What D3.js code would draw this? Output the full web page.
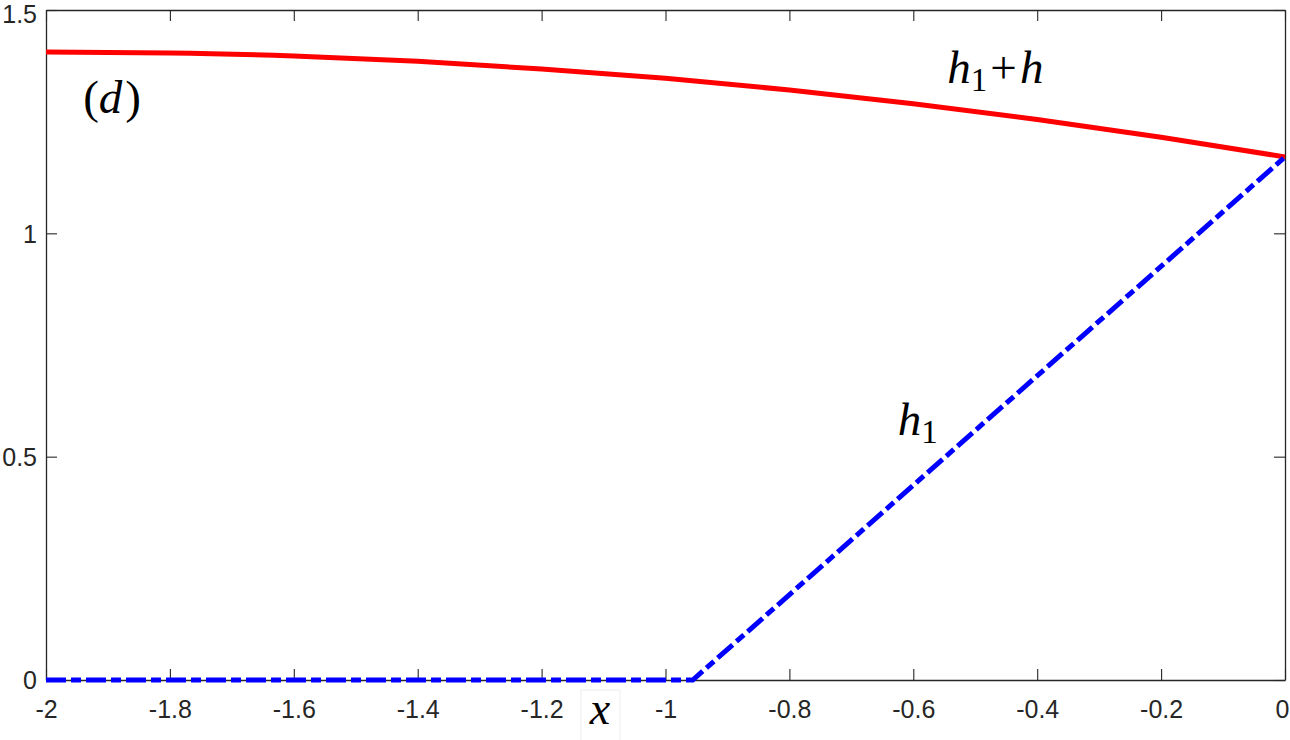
<!DOCTYPE html>
<html>
<head>
<meta charset="utf-8">
<script src="https://cdn.jsdelivr.net/npm/d3@7"></script>
<style>
  html, body { margin: 0; padding: 0; background: #fff; }
  svg { display: block; }
</style>
</head>
<body>
<svg id="chart" width="1290" height="740"></svg>
<script>
// ---- data ----
const xTicks = [-2, -1.8, -1.6, -1.4, -1.2, -1, -0.8, -0.6, -0.4, -0.2, 0];
const xTickLabels = ["-2", "-1.8", "-1.6", "-1.4", "-1.2", "-1", "-0.8", "-0.6", "-0.4", "-0.2", "0"];
const yTicks = [0, 0.5, 1, 1.5];
const yTickLabels = ["0", "0.5", "1", "1.5"];

// h1 + h (red solid)
const sumX = [-2, -1.8, -1.6, -1.4, -1.2, -1.0, -0.8, -0.6, -0.4, -0.2, 0];
const sumY = [1.406, 1.404, 1.397, 1.385, 1.368, 1.347, 1.321, 1.290, 1.255, 1.215, 1.171];

// h1 (blue dash-dot)
const h1X = [-2, -0.956, 0];
const h1Y = [0, 0, 1.171];

// ---- layout ----
const svg = d3.select("#chart");
const L = 46, R = 1285, T = 10, B = 680;
const x = d3.scaleLinear().domain([-2, 0]).range([L, R]);
const y = d3.scaleLinear().domain([0, 1.5]).range([B, T]);
const axisColor = "#262626";
const tickLen = 11;

const fmtX = (d) => xTickLabels[xTicks.indexOf(d)];
const fmtY = (d) => yTickLabels[yTicks.indexOf(d)];

const gx = svg.append("g").attr("transform", `translate(0,${B})`)
  .call(d3.axisBottom(x).tickValues(xTicks).tickFormat(fmtX).tickSizeInner(-tickLen).tickSizeOuter(0).tickPadding(20));
const gxt = svg.append("g").attr("transform", `translate(0,${T})`)
  .call(d3.axisTop(x).tickValues(xTicks).tickFormat("").tickSizeInner(-tickLen).tickSizeOuter(0));
const gy = svg.append("g").attr("transform", `translate(${L},0)`)
  .call(d3.axisLeft(y).tickValues(yTicks).tickFormat(fmtY).tickSizeInner(-tickLen).tickSizeOuter(0).tickPadding(9));
const gyr = svg.append("g").attr("transform", `translate(${R},0)`)
  .call(d3.axisRight(y).tickValues(yTicks).tickFormat("").tickSizeInner(-tickLen).tickSizeOuter(0));

[gx, gxt, gy, gyr].forEach(g => {
  g.selectAll(".domain").attr("stroke", axisColor).attr("stroke-width", 1.3);
  g.selectAll(".tick line").attr("stroke", axisColor).attr("stroke-width", 1.1);
  g.selectAll(".tick text")
    .attr("fill", axisColor)
    .style("font-family", "'Liberation Sans', Arial, sans-serif")
    .style("font-size", "25px");
});
gy.selectAll(".tick text").attr("dy", "0.35em");
gy.selectAll(".tick text").filter(d => d === 1.5).attr("dy", "0.5em");
// last x label: keep inside the view
gx.selectAll(".tick text").filter(d => d === 0).attr("text-anchor", "end").attr("x", 4);

// ---- lines ----
const lineSum = d3.line().x((d, i) => x(sumX[i])).y((d, i) => y(sumY[i])).curve(d3.curveMonotoneX);
svg.append("path")
  .datum(sumY)
  .attr("d", lineSum)
  .attr("fill", "none")
  .attr("stroke", "#ff0000")
  .attr("stroke-width", 5);

const lineH1 = d3.line().x((d, i) => x(h1X[i])).y((d, i) => y(h1Y[i]));
svg.append("path")
  .datum(h1Y)
  .attr("d", lineH1)
  .attr("fill", "none")
  .attr("stroke", "#0000ff")
  .attr("stroke-width", 5)
  .attr("stroke-dasharray", "20,5,10,5");

// ---- annotations ----
const serif = "'Liberation Serif', 'Times New Roman', serif";
function mathLabel(xv, yv, parts) {
  const t = svg.append("text")
    .attr("x", x(xv)).attr("y", y(yv))
    .style("font-family", serif)
    .style("font-size", "47px")
    .attr("fill", "#000");
  parts.forEach(p => {
    const s = t.append("tspan").text(p.t);
    if (p.italic) s.style("font-style", "italic");
    if (p.sub) s.style("font-size", "33px").attr("dy", 8);
    if (p.up) s.attr("dy", -8);
    if (p.dx) s.attr("dx", p.dx);
  });
  return t;
}
mathLabel(-0.545, 1.336, [
  {t: "h", italic: true},
  {t: "1", sub: true},
  {t: "+", up: true, dx: 3},
  {t: "h", italic: true, dx: 3}
]);
mathLabel(-0.625, 0.548, [
  {t: "h", italic: true},
  {t: "1", sub: true}
]);
mathLabel(-1.94, 1.269, [
  {t: "(", italic: false},
  {t: "d", italic: true},
  {t: ")", italic: false, dx: 3}
]);

// x axis label with faint box
svg.append("rect")
  .attr("x", 581).attr("y", 690).attr("width", 39).attr("height", 52)
  .attr("fill", "#fff").attr("stroke", "#eeeeee").attr("stroke-width", 1);
svg.append("text")
  .attr("x", 600).attr("y", 724)
  .attr("text-anchor", "middle")
  .style("font-family", serif)
  .style("font-style", "italic")
  .style("font-size", "46px")
  .attr("fill", "#000")
  .text("x");
</script>
</body>
</html>
